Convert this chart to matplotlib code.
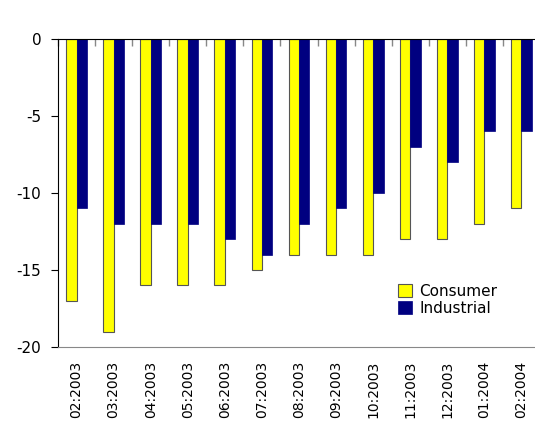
import numpy as np
import matplotlib
matplotlib.use('Agg')
import matplotlib.pyplot as plt

meses = ['02:2003', '03:2003', '04:2003', '05:2003', '06:2003', '07:2003', '08:2003',
         '09:2003', '10:2003', '11:2003', '12:2003', '01:2004', '02:2004']
consumer = [-17, -19, -16, -16, -16, -15, -14, -14, -14, -13, -13, -12, -11]
industrial = [-11, -12, -12, -12, -13, -14, -12, -11, -10, -7, -8, -6, -6]

plt.rcParams['font.family'] = ['DejaVu Sans']
plt.rcParams['axes.unicode_minus'] = False

fig = plt.figure(figsize=(5.35, 4.3), dpi=100)
ax = fig.add_axes([58 / 535, 1 - 347 / 430, 482 / 535, 308 / 430])

x = np.arange(len(meses))
w = 0.28
ax.bar(x - w / 2, consumer, w, color='#FFFF00', edgecolor='#555555', linewidth=0.8, label='Consumer')
ax.bar(x + w / 2, industrial, w, color='#000080', edgecolor='#000080', linewidth=0.5, label='Industrial')

ax.set_xlim(-0.5, len(meses) - 0.5)
ax.set_ylim(-20, 0)
ax.set_yticks([0, -5, -10, -15, -20])
ax.tick_params(axis='y', labelsize=11, length=5, direction='out', color='black', pad=7)

ax.set_xticks(x)
ax.set_xticklabels(meses, rotation=90, fontsize=10)
ax.tick_params(axis='x', which='major', length=0, pad=10)
ax.set_xticks(np.arange(len(meses) + 1) - 0.5, minor=True)
ax.tick_params(axis='x', which='minor', bottom=False, top=True, direction='in',
               length=5, color='#888888', width=1)

ax.spines['right'].set_visible(False)
ax.spines['top'].set_color('black')
ax.spines['bottom'].set_color('#888888')
ax.spines['left'].set_color('black')

ax.legend(loc='upper left', bbox_to_anchor=(0.69, 0.23), frameon=False, fontsize=11,
          handlelength=0.9, handleheight=0.9, handletextpad=0.5, labelspacing=0.15,
          borderpad=0)

fig.savefig('out.png', dpi=100)
